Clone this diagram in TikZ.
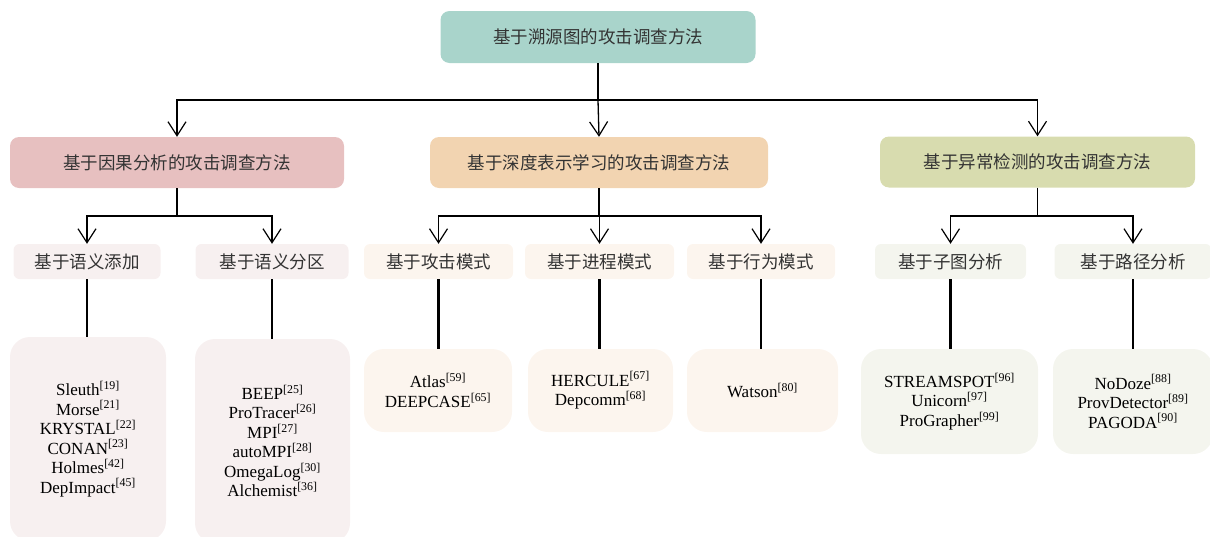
\documentclass[tikz,border=0pt]{standalone}
\usepackage{fontspec}
\setmainfont{Liberation Serif}
\newfontfamily\cjk{Noto Sans CJK SC}
\usetikzlibrary{arrows.meta}
\definecolor{cTop}{HTML}{A9D4CB}
\definecolor{cPink}{HTML}{E7C0C0}
\definecolor{cOrange}{HTML}{F2D4B1}
\definecolor{cGreen}{HTML}{D8DCAF}
\definecolor{lPink}{HTML}{F7F0F0}
\definecolor{lOrange}{HTML}{FCF5EE}
\definecolor{lGreen}{HTML}{F4F5EE}
\definecolor{txt}{HTML}{333333}
\newcommand{\rf}[1]{\textsuperscript{[#1]}}
\tikzset{
  box/.style={inner sep=0pt, text=txt, font=\cjk\fontsize{17.5}{20}\selectfont},
  topbox/.style={box, fill=cTop, rounded corners=9pt, minimum height=52pt},
  catbox/.style={box, rounded corners=9pt, minimum height=51pt},
  subbox/.style={box, rounded corners=6pt, minimum height=35pt},
  leafbox/.style={inner sep=0pt, rounded corners=20pt, text=black, align=center, font=\fontsize{17}{19.5}\selectfont},
  arr/.style={line width=1.3pt, -{Straight Barb[length=14pt,width=18pt,line width=1.2pt]}},
  conn/.style={line width=1.3pt},
  thickline/.style={line width=2.8pt}
}
\begin{document}
\begin{tikzpicture}[x=1pt,y=-1pt]
\useasboundingbox (0,0) rectangle (1210,536);
% top
\node[topbox, minimum width=315pt] (top) at (598,37) {基于溯源图的攻击调查方法};
% level 2
\node[catbox, fill=cPink, minimum width=334pt] (P) at (177,162.5) {基于因果分析的攻击调查方法};
\node[catbox, fill=cOrange, minimum width=338pt] (O) at (599,162.5) {基于深度表示学习的攻击调查方法};
\node[catbox, fill=cGreen, minimum width=315pt] (G) at (1037.5,162) {基于异常检测的攻击调查方法};
% level 3
\node[subbox, fill=lPink, minimum width=147pt] (p1) at (87,261.5) {基于语义添加};
\node[subbox, fill=lPink, minimum width=153pt] (p2) at (272,261.5) {基于语义分区};
\node[subbox, fill=lOrange, minimum width=149pt] (o1) at (438.5,261.5) {基于攻击模式};
\node[subbox, fill=lOrange, minimum width=149pt] (o2) at (599.5,261.5) {基于进程模式};
\node[subbox, fill=lOrange, minimum width=148pt] (o3) at (761,261.5) {基于行为模式};
\node[subbox, fill=lGreen, minimum width=151pt] (g1) at (950.5,261.5) {基于子图分析};
\node[subbox, fill=lGreen, minimum width=157pt] (g2) at (1133,261.5) {基于路径分析};
% leaves
\node[leafbox, fill=lPink, minimum width=156pt, minimum height=204pt] (P1) at (88,439)
  {Sleuth\rf{19}\\Morse\rf{21}\\KRYSTAL\rf{22}\\CONAN\rf{23}\\Holmes\rf{42}\\DepImpact\rf{45}};
\node[leafbox, fill=lPink, minimum width=155pt, minimum height=204pt] (P2) at (272.5,441)
  {BEEP\rf{25}\\ProTracer\rf{26}\\MPI\rf{27}\\autoMPI\rf{28}\\OmegaLog\rf{30}\\Alchemist\rf{36}};
\node[leafbox, fill=lOrange, minimum width=148pt, minimum height=83pt] (O1) at (438,390.5)
  {Atlas\rf{59}\\DEEPCASE\rf{65}};
\node[leafbox, fill=lOrange, minimum width=145pt, minimum height=83pt] (O2) at (600.5,390.5)
  {HERCULE\rf{67}\\Depcomm\rf{68}};
\node[leafbox, fill=lOrange, minimum width=151pt, minimum height=83pt] (O3) at (762.5,390.5)
  {Watson\rf{80}};
\node[leafbox, fill=lGreen, minimum width=177pt, minimum height=105pt] (G1) at (949.5,401.5)
  {STREAMSPOT\rf{96}\\Unicorn\rf{97}\\ProGrapher\rf{99}};
\node[leafbox, fill=lGreen, minimum width=160pt, minimum height=105pt] (G2) at (1133,401.5)
  {NoDoze\rf{88}\\ProvDetector\rf{89}\\PAGODA\rf{90}};
% junctions
\coordinate (j0) at (598,100);
\coordinate (jP) at (177,216);
\coordinate (jO) at (599,216);
\coordinate (jG) at (1037.5,216);
% connectors
\draw[conn] (top.south) -- (j0);
\draw[arr] (j0) -| (P.north);
\draw[arr] (j0) -- (O.north);
\draw[arr] (j0) -| (G.north);
\draw[conn] (P.south) -- (jP);
\draw[arr] (jP) -| (p1.north);
\draw[arr] (jP) -| (p2.north);
\draw[conn] (O.south) -- (jO);
\draw[arr] (jO) -| (o1.north);
\draw[arr] (jO) -| (o2.north);
\draw[arr] (jO) -| (o3.north);
\draw[conn] (G.south) -- (jG);
\draw[arr] (jG) -| (g1.north);
\draw[arr] (jG) -| (g2.north);
\draw[thickline] (p1.south) -- (p1.south |- P1.north);
\draw[thickline] (p2.south) -- (p2.south |- P2.north);
\draw[thickline] (o1.south) -- (o1.south |- O1.north);
\draw[thickline] (o2.south) -- (o2.south |- O2.north);
\draw[thickline] (o3.south) -- (o3.south |- O3.north);
\draw[thickline] (g1.south) -- (g1.south |- G1.north);
\draw[thickline] (g2.south) -- (g2.south |- G2.north);
\end{tikzpicture}
\end{document}
